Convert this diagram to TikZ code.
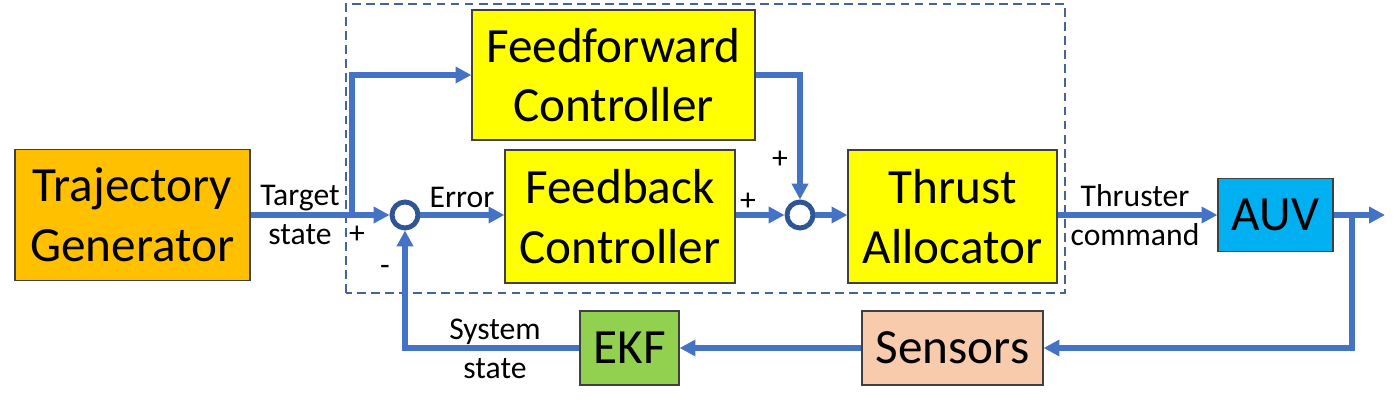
\documentclass[tikz,border=0pt]{standalone}
\usepackage{fontspec}
\setmainfont{Carlito}
\usetikzlibrary{arrows.meta}

\definecolor{lineblue}{HTML}{4472C4}
\definecolor{ringblue}{HTML}{2F5597}
\definecolor{dashblue}{HTML}{44649A}
\definecolor{orangebox}{HTML}{FFC000}
\definecolor{yellowbox}{HTML}{FFFF00}
\definecolor{auvblue}{HTML}{00B0F0}
\definecolor{sensorpink}{HTML}{F8CBAD}
\definecolor{ekfgreen}{HTML}{92D050}

\begin{document}
\begin{tikzpicture}[
	block/.style={draw=black!75, line width=0.7pt, align=center,
		font=\fontsize{28}{34}\selectfont, inner sep=0pt},
	sumnode/.style={circle, draw=ringblue, line width=2.8pt, fill=white,
		minimum size=0.52cm, inner sep=0pt},
	signal/.style={draw=lineblue, line width=3.2pt,
		-{Triangle[length=9pt,width=9pt]}},
	lbl/.style={font=\fontsize{18}{22}\selectfont, align=center, inner sep=0pt}
]
\useasboundingbox (0,0) rectangle (28,8.14);

% Controlador
\draw[dashblue, line width=0.9pt, dash pattern=on 5pt off 3pt] (6.92,2.28) rectangle (21.3,8.06);

% Bloques
\node[block, fill=orangebox, minimum width=4.7cm, minimum height=2.62cm] (tg) at (2.65,3.84) {Trajectory\\Generator};
\node[block, fill=yellowbox, minimum width=5.66cm, minimum height=2.6cm] (ff) at (12.27,6.64) {Feedforward\\Controller};
\node[block, fill=yellowbox, minimum width=4.6cm, minimum height=2.66cm] (fb) at (12.4,3.81) {Feedback\\Controller};
\node[block, fill=yellowbox, minimum width=4.18cm, minimum height=2.66cm] (ta) at (19.05,3.81) {Thrust\\Allocator};
\node[block, fill=auvblue, minimum width=2.3cm, minimum height=1.46cm] (auv) at (25.51,3.84) {AUV};
\node[block, fill=sensorpink, minimum width=3.62cm, minimum height=1.48cm] (sen) at (19.05,1.18) {Sensors};
\node[block, fill=ekfgreen, minimum width=1.98cm, minimum height=1.48cm] (ekf) at (12.59,1.18) {EKF};

% Sumadores
\node[sumnode] (s1) at (8.1,3.84) {};
\node[sumnode] (s2) at (16.0,3.84) {};

% Puntos auxiliares
\coordinate (br) at (7.04,3.84);
\coordinate (out) at (27.7,3.84);
\coordinate (tap) at (27.04,3.84);

% Conexiones
\draw[signal] (tg.east |- s1) -- (s1.west);
\draw[signal] (br) |- (ff.west);
\draw[signal] (s1.east) -- (fb.west |- s1);
\draw[signal] (fb.east |- s2) -- (s2.west);
\draw[signal] (ff.east) -| (s2.north);
\draw[signal] (s2.east) -- (ta.west |- s2);
\draw[signal] (ta.east |- auv) -- (auv.west);
\draw[signal] (auv.east) -- (out);
\draw[signal] (tap) |- (sen.east);
\draw[signal] (sen.west) -- (ekf.east);
\draw[signal] (ekf.west) -| (s1.south);

% Etiquetas
\node[lbl] (ltarget) at (6.0,3.84) {Target\\state};
\node[lbl] (lerror) at (9.24,4.2) {Error};
\node[lbl] (lthrust) at (22.7,3.84) {Thruster\\command};
\node[lbl] (lsystem) at (9.9,1.16) {System\\state};
\node[lbl] (p1) at (7.14,3.44) {+};
\node[lbl] (m1) at (7.7,2.74) {-};
\node[lbl] (p2) at (14.96,4.1) {+};
\node[lbl] (p3) at (15.6,4.94) {+};
\end{tikzpicture}
\end{document}
